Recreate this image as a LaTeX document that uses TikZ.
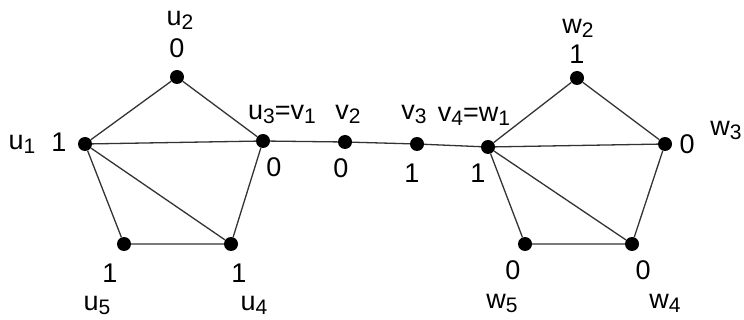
\documentclass[tikz,border=0pt]{standalone}
\usepackage{fontspec}
\setmainfont{Liberation Sans}
\newcommand\mysub[1]{\raisebox{-4pt}{\fontsize{21}{21}\selectfont #1}}
\begin{document}
\begin{tikzpicture}[x=1pt,y=-1pt,
  dot/.style={circle,fill=black,inner sep=0pt,minimum size=14pt},
  lab/.style={inner sep=0pt,font=\fontsize{27}{27}\selectfont},
  edge/.style={draw=black!80,line width=1.3pt}]
\useasboundingbox (0,0) rectangle (744,320);
% vertices
\node[dot] (u1) at (85,144) {};
\node[dot] (u2) at (177,77) {};
\node[dot] (u3) at (263,141) {};
\node[dot] (u4) at (231,244) {};
\node[dot] (u5) at (124,244) {};
\node[dot] (v2) at (345,142) {};
\node[dot] (v3) at (417,144) {};
\node[dot] (w1) at (488,147) {};
\node[dot] (w2) at (577,78) {};
\node[dot] (w3) at (665,144) {};
\node[dot] (w4) at (632,244) {};
\node[dot] (w5) at (525,244) {};
% edges
\draw[edge] (u1) -- (u2) (u2) -- (u3) (u1) -- (u3) (u1) -- (u5) (u1) -- (u4) (u3) -- (u4) (u5) -- (u4);
\draw[edge] (u3) -- (v2) (v2) -- (v3) (v3) -- (w1);
\draw[edge] (w1) -- (w2) (w2) -- (w3) (w1) -- (w3) (w1) -- (w5) (w1) -- (w4) (w3) -- (w4) (w5) -- (w4);
% labels
\node[lab] (lu1) at (22,144) {u\mysub{1}};
\node[lab] (nu1) at (59,142) {1};
\node[lab] (lu2) at (180,20) {u\mysub{2}};
\node[lab] (nu2) at (177,48) {0};
\node[lab] (lu3) at (282,114) {u\mysub{3}=v\mysub{1}};
\node[lab] (nu3) at (274,167) {0};
\node[lab] (lv2) at (348,114) {v\mysub{2}};
\node[lab] (nv2) at (341,168) {0};
\node[lab] (lv3) at (414,114) {v\mysub{3}};
\node[lab] (nv3) at (412,173) {1};
\node[lab] (lw1) at (474,116) {v\mysub{4}=w\mysub{1}};
\node[lab] (nw1) at (478,173) {1};
\node[lab] (lw2) at (578,28) {w\mysub{2}};
\node[lab] (nw2) at (577,54) {1};
\node[lab] (nw3) at (687,144) {0};
\node[lab] (lw3) at (726,130) {w\mysub{3}};
\node[lab] (nw4) at (643,270) {0};
\node[lab] (lw4) at (665,303) {w\mysub{4}};
\node[lab] (nw5) at (513,270) {0};
\node[lab] (lw5) at (502,303) {w\mysub{5}};
\node[lab] (nu4) at (239,273) {1};
\node[lab] (lu4) at (254,305) {u\mysub{4}};
\node[lab] (nu5) at (110,273) {1};
\node[lab] (lu5) at (97,305) {u\mysub{5}};
\end{tikzpicture}
\end{document}
